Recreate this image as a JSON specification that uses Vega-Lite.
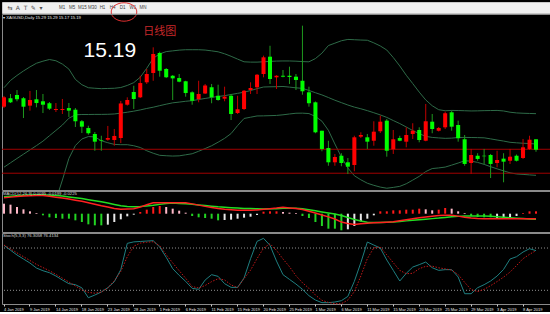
{
"$schema":"https://vega.github.io/schema/vega-lite/v6.json",
"background":"#000000",
"padding":0,
"bounds":"flush",
"spacing":1,
"config":{"view":{"stroke":null},"text":{"font":"Liberation Sans"}},
"datasets":{"bars":[
{"d":"4 Jan 2019","o":15.603,"h":15.706,"l":15.59,"c":15.693,"u":15.785,"m":15.022,"lo":14.259,"mac":0.0637,"sig":0.0676,"hist":0.0401,"ph":"pos_down","k":83.8,"dd":84.2},
{"d":"6 Jan 2019","o":15.684,"h":15.725,"l":15.638,"c":15.645,"u":15.855,"m":15.064,"lo":14.273,"mac":0.0663,"sig":0.0697,"hist":0.0361,"ph":"pos_down","k":76.9,"dd":78.8},
{"d":"7 Jan 2019","o":15.715,"h":15.763,"l":15.655,"c":15.674,"u":15.903,"m":15.106,"lo":14.308,"mac":0.0689,"sig":0.0719,"hist":0.0268,"ph":"pos_down","k":70.1,"dd":73.1},
{"d":"8 Jan 2019","o":15.684,"h":15.696,"l":15.494,"c":15.603,"u":15.946,"m":15.147,"lo":14.348,"mac":0.0711,"sig":0.0737,"hist":0.0175,"ph":"pos_down","k":64.4,"dd":67.7},
{"d":"9 Jan 2019","o":15.613,"h":15.754,"l":15.565,"c":15.667,"u":15.985,"m":15.188,"lo":14.391,"mac":0.0719,"sig":0.0745,"hist":0.0095,"ph":"pos_down","k":58.7,"dd":62.3},
{"d":"10 Jan 2019","o":15.674,"h":15.763,"l":15.597,"c":15.638,"u":16.02,"m":15.229,"lo":14.439,"mac":0.0728,"sig":0.0755,"hist":0.0028,"ph":"pos_down","k":51.6,"dd":56.8},
{"d":"11 Jan 2019","o":15.655,"h":15.725,"l":15.542,"c":15.622,"u":16.04,"m":15.272,"lo":14.504,"mac":0.0732,"sig":0.0759,"hist":-0.0065,"ph":"neg_down","k":47.8,"dd":52.3},
{"d":"13 Jan 2019","o":15.636,"h":15.648,"l":15.571,"c":15.584,"u":16.056,"m":15.324,"lo":14.591,"mac":0.0695,"sig":0.0741,"hist":-0.0145,"ph":"neg_down","k":45.0,"dd":47.8},
{"d":"14 Jan 2019","o":15.571,"h":15.638,"l":15.552,"c":15.581,"u":16.044,"m":15.375,"lo":14.706,"mac":0.066,"sig":0.0724,"hist":-0.0172,"ph":"neg_down","k":40.3,"dd":42.6},
{"d":"15 Jan 2019","o":15.571,"h":15.677,"l":15.533,"c":15.581,"u":16.012,"m":15.427,"lo":14.899,"mac":0.0625,"sig":0.0707,"hist":-0.0199,"ph":"neg_down","k":34.6,"dd":37.2},
{"d":"16 Jan 2019","o":15.59,"h":15.638,"l":15.504,"c":15.565,"u":15.964,"m":15.492,"lo":15.106,"mac":0.0584,"sig":0.0672,"hist":-0.0199,"ph":"neg_down","k":29.4,"dd":31.8},
{"d":"17 Jan 2019","o":15.574,"h":15.59,"l":15.408,"c":15.463,"u":15.865,"m":15.525,"lo":15.23,"mac":0.0539,"sig":0.0637,"hist":-0.0265,"ph":"neg_down","k":28.0,"dd":26.1},
{"d":"18 Jan 2019","o":15.463,"h":15.475,"l":15.35,"c":15.411,"u":15.814,"m":15.528,"lo":15.293,"mac":0.0497,"sig":0.0604,"hist":-0.0332,"ph":"neg_down","k":23.5,"dd":20.7},
{"d":"20 Jan 2019","o":15.398,"h":15.42,"l":15.334,"c":15.348,"u":15.785,"m":15.528,"lo":15.316,"mac":0.0439,"sig":0.0561,"hist":-0.0425,"ph":"neg_down","k":9.5,"dd":17.1},
{"d":"21 Jan 2019","o":15.341,"h":15.36,"l":15.18,"c":15.267,"u":15.78,"m":15.529,"lo":15.313,"mac":0.0376,"sig":0.0517,"hist":-0.0465,"ph":"neg_down","k":13.3,"dd":15.9},
{"d":"22 Jan 2019","o":15.28,"h":15.324,"l":15.18,"c":15.274,"u":15.776,"m":15.529,"lo":15.276,"mac":0.0317,"sig":0.0475,"hist":-0.0465,"ph":"neg_down","k":17.6,"dd":17.4},
{"d":"23 Jan 2019","o":15.286,"h":15.418,"l":15.276,"c":15.302,"u":15.778,"m":15.53,"lo":15.257,"mac":0.0265,"sig":0.0425,"hist":-0.0439,"ph":"neg_up","k":23.7,"dd":23.4},
{"d":"24 Jan 2019","o":15.283,"h":15.389,"l":15.228,"c":15.322,"u":15.78,"m":15.533,"lo":15.241,"mac":0.0212,"sig":0.0372,"hist":-0.0332,"ph":"neg_up","k":32.2,"dd":33.5},
{"d":"25 Jan 2019","o":15.302,"h":15.658,"l":15.254,"c":15.634,"u":15.787,"m":15.541,"lo":15.238,"mac":0.0177,"sig":0.0321,"hist":-0.0225,"ph":"neg_up","k":49.3,"dd":46.7},
{"d":"27 Jan 2019","o":15.622,"h":15.693,"l":15.613,"c":15.667,"u":15.807,"m":15.55,"lo":15.238,"mac":0.0188,"sig":0.0285,"hist":-0.0105,"ph":"neg_up","k":86.6,"dd":67.7},
{"d":"28 Jan 2019","o":15.744,"h":15.804,"l":15.581,"c":15.677,"u":15.834,"m":15.56,"lo":15.228,"mac":0.0199,"sig":0.0276,"hist":-0.0039,"ph":"neg_up","k":88.7,"dd":82.6},
{"d":"29 Jan 2019","o":15.693,"h":15.9,"l":15.686,"c":15.83,"u":15.886,"m":15.572,"lo":15.211,"mac":0.0264,"sig":0.0285,"hist":0.0068,"ph":"pos_up","k":89.3,"dd":87.0},
{"d":"30 Jan 2019","o":15.837,"h":15.965,"l":15.821,"c":15.917,"u":15.972,"m":15.586,"lo":15.18,"mac":0.036,"sig":0.0312,"hist":0.0161,"ph":"pos_up","k":89.9,"dd":88.2},
{"d":"31 Jan 2019","o":15.926,"h":16.173,"l":15.852,"c":16.109,"u":16.068,"m":15.598,"lo":15.156,"mac":0.0441,"sig":0.0339,"hist":0.0268,"ph":"pos_up","k":90.4,"dd":88.9},
{"d":"1 Feb 2019","o":16.118,"h":16.131,"l":15.891,"c":15.948,"u":16.11,"m":15.613,"lo":15.136,"mac":0.0441,"sig":0.0373,"hist":0.0308,"ph":"pos_up","k":81.4,"dd":83.1},
{"d":"3 Feb 2019","o":15.965,"h":15.974,"l":15.878,"c":15.885,"u":16.132,"m":15.627,"lo":15.132,"mac":0.0441,"sig":0.0411,"hist":0.0268,"ph":"pos_down","k":66.8,"dd":70.5},
{"d":"4 Feb 2019","o":15.9,"h":15.907,"l":15.667,"c":15.875,"u":16.139,"m":15.64,"lo":15.129,"mac":0.0441,"sig":0.0423,"hist":0.0201,"ph":"pos_down","k":50.7,"dd":58.9},
{"d":"5 Feb 2019","o":15.878,"h":15.917,"l":15.837,"c":15.843,"u":16.146,"m":15.647,"lo":15.131,"mac":0.0441,"sig":0.0412,"hist":0.0121,"ph":"pos_down","k":41.2,"dd":47.8},
{"d":"6 Feb 2019","o":15.847,"h":15.852,"l":15.699,"c":15.734,"u":16.15,"m":15.655,"lo":15.141,"mac":0.0441,"sig":0.0401,"hist":0.0041,"ph":"pos_down","k":32.7,"dd":37.1},
{"d":"7 Feb 2019","o":15.741,"h":15.751,"l":15.622,"c":15.66,"u":16.15,"m":15.661,"lo":15.151,"mac":0.0393,"sig":0.0377,"hist":-0.0092,"ph":"neg_down","k":22.8,"dd":25.3},
{"d":"8 Feb 2019","o":15.677,"h":15.852,"l":15.645,"c":15.725,"u":16.15,"m":15.672,"lo":15.175,"mac":0.0343,"sig":0.0352,"hist":-0.0145,"ph":"neg_down","k":21.4,"dd":23.4},
{"d":"10 Feb 2019","o":15.73,"h":15.821,"l":15.725,"c":15.806,"u":16.147,"m":15.682,"lo":15.201,"mac":0.0293,"sig":0.0325,"hist":-0.0172,"ph":"neg_down","k":34.6,"dd":26.8},
{"d":"11 Feb 2019","o":15.789,"h":15.821,"l":15.636,"c":15.693,"u":16.139,"m":15.692,"lo":15.228,"mac":0.0252,"sig":0.03,"hist":-0.0199,"ph":"neg_down","k":42.2,"dd":32.3},
{"d":"12 Feb 2019","o":15.708,"h":15.814,"l":15.66,"c":15.667,"u":16.13,"m":15.701,"lo":15.262,"mac":0.0212,"sig":0.0275,"hist":-0.0265,"ph":"neg_down","k":39.8,"dd":36.5},
{"d":"13 Feb 2019","o":15.68,"h":15.795,"l":15.655,"c":15.699,"u":16.111,"m":15.709,"lo":15.299,"mac":0.0181,"sig":0.0256,"hist":-0.0252,"ph":"neg_up","k":29.4,"dd":34.7},
{"d":"14 Feb 2019","o":15.708,"h":15.725,"l":15.475,"c":15.533,"u":16.087,"m":15.72,"lo":15.345,"mac":0.0156,"sig":0.024,"hist":-0.0239,"ph":"neg_up","k":24.2,"dd":27.7},
{"d":"15 Feb 2019","o":15.542,"h":15.708,"l":15.533,"c":15.578,"u":16.06,"m":15.731,"lo":15.421,"mac":0.0135,"sig":0.0225,"hist":-0.0199,"ph":"neg_up","k":24.2,"dd":23.8},
{"d":"17 Feb 2019","o":15.581,"h":15.763,"l":15.571,"c":15.757,"u":16.034,"m":15.742,"lo":15.49,"mac":0.0135,"sig":0.0211,"hist":-0.0159,"ph":"neg_up","k":37.4,"dd":36.7},
{"d":"18 Feb 2019","o":15.763,"h":15.837,"l":15.725,"c":15.782,"u":16.031,"m":15.758,"lo":15.502,"mac":0.0135,"sig":0.0205,"hist":-0.0119,"ph":"neg_up","k":64.9,"dd":48.6},
{"d":"19 Feb 2019","o":15.789,"h":15.917,"l":15.725,"c":15.91,"u":16.031,"m":15.776,"lo":15.514,"mac":0.0151,"sig":0.0197,"hist":-0.0052,"ph":"neg_up","k":89.4,"dd":64.9},
{"d":"20 Feb 2019","o":15.917,"h":16.093,"l":15.885,"c":16.077,"u":16.034,"m":15.792,"lo":15.515,"mac":0.0177,"sig":0.0191,"hist":0.0081,"ph":"pos_up","k":93.7,"dd":79.7},
{"d":"21 Feb 2019","o":16.083,"h":16.188,"l":15.821,"c":15.869,"u":16.038,"m":15.794,"lo":15.517,"mac":0.0201,"sig":0.0195,"hist":0.0095,"ph":"pos_up","k":83.8,"dd":86.1},
{"d":"22 Feb 2019","o":15.885,"h":15.905,"l":15.773,"c":15.9,"u":16.041,"m":15.795,"lo":15.519,"mac":0.0224,"sig":0.0201,"hist":0.0095,"ph":"pos_up","k":61.5,"dd":76.7},
{"d":"24 Feb 2019","o":15.9,"h":15.955,"l":15.885,"c":15.891,"u":16.042,"m":15.797,"lo":15.525,"mac":0.0256,"sig":0.0215,"hist":0.0068,"ph":"pos_down","k":42.2,"dd":64.4},
{"d":"25 Feb 2019","o":15.9,"h":15.987,"l":15.821,"c":15.888,"u":16.042,"m":15.791,"lo":15.533,"mac":0.0231,"sig":0.0221,"hist":0.0041,"ph":"pos_down","k":35.5,"dd":53.5},
{"d":"26 Feb 2019","o":15.891,"h":15.917,"l":15.763,"c":15.859,"u":16.04,"m":15.784,"lo":15.54,"mac":0.0211,"sig":0.0221,"hist":0.0028,"ph":"pos_down","k":28.9,"dd":40.7},
{"d":"27 Feb 2019","o":15.852,"h":16.381,"l":15.718,"c":15.751,"u":16.036,"m":15.779,"lo":15.541,"mac":0.0168,"sig":0.0201,"hist":-0.0092,"ph":"neg_down","k":21.4,"dd":30.8},
{"d":"28 Feb 2019","o":15.741,"h":15.795,"l":15.603,"c":15.636,"u":16.034,"m":15.759,"lo":15.537,"mac":0.0097,"sig":0.0159,"hist":-0.0172,"ph":"neg_down","k":12.4,"dd":22.8},
{"d":"1 Mar 2019","o":15.645,"h":15.653,"l":15.348,"c":15.357,"u":16.065,"m":15.737,"lo":15.509,"mac":0.0031,"sig":0.0115,"hist":-0.0332,"ph":"neg_down","k":6.2,"dd":13.3},
{"d":"3 Mar 2019","o":15.372,"h":15.372,"l":15.175,"c":15.197,"u":16.117,"m":15.716,"lo":15.464,"mac":-0.0049,"sig":0.0072,"hist":-0.0492,"ph":"neg_down","k":2.5,"dd":5.8},
{"d":"4 Mar 2019","o":15.206,"h":15.276,"l":15.036,"c":15.069,"u":16.19,"m":15.691,"lo":15.376,"mac":-0.0127,"sig":0.0031,"hist":-0.0599,"ph":"neg_down","k":2.5,"dd":2.9},
{"d":"5 Mar 2019","o":15.069,"h":15.149,"l":15.036,"c":15.12,"u":16.213,"m":15.665,"lo":15.245,"mac":-0.0211,"sig":-0.0015,"hist":-0.0599,"ph":"neg_down","k":3.4,"dd":1.0},
{"d":"6 Mar 2019","o":15.132,"h":15.156,"l":15.031,"c":15.062,"u":16.236,"m":15.642,"lo":15.12,"mac":-0.0335,"sig":-0.0073,"hist":-0.0665,"ph":"neg_down","k":5.3,"dd":1.0},
{"d":"7 Mar 2019","o":15.069,"h":15.11,"l":14.957,"c":15.027,"u":16.249,"m":15.619,"lo":15.014,"mac":-0.0396,"sig":-0.0151,"hist":-0.0625,"ph":"neg_up","k":11.4,"dd":6.2},
{"d":"8 Mar 2019","o":15.043,"h":15.324,"l":14.983,"c":15.309,"u":16.246,"m":15.599,"lo":14.94,"mac":-0.0432,"sig":-0.0229,"hist":-0.0492,"ph":"neg_up","k":32.7,"dd":18.1},
{"d":"10 Mar 2019","o":15.315,"h":15.357,"l":15.302,"c":15.331,"u":16.243,"m":15.583,"lo":14.901,"mac":-0.0405,"sig":-0.0296,"hist":-0.0305,"ph":"neg_up","k":59.2,"dd":40.3},
{"d":"11 Mar 2019","o":15.309,"h":15.341,"l":15.197,"c":15.267,"u":16.241,"m":15.565,"lo":14.868,"mac":-0.038,"sig":-0.0339,"hist":-0.0199,"ph":"neg_up","k":88.5,"dd":64.9},
{"d":"12 Mar 2019","o":15.276,"h":15.463,"l":15.228,"c":15.363,"u":16.216,"m":15.545,"lo":14.848,"mac":-0.0365,"sig":-0.0356,"hist":-0.0065,"ph":"neg_up","k":84.2,"dd":80.2},
{"d":"13 Mar 2019","o":15.367,"h":15.517,"l":15.35,"c":15.459,"u":16.186,"m":15.524,"lo":14.831,"mac":-0.0351,"sig":-0.0355,"hist":0.0095,"ph":"pos_up","k":80.0,"dd":81.4},
{"d":"14 Mar 2019","o":15.469,"h":15.485,"l":15.123,"c":15.18,"u":16.147,"m":15.5,"lo":14.82,"mac":-0.034,"sig":-0.0344,"hist":0.0095,"ph":"pos_up","k":63.0,"dd":70.3},
{"d":"15 Mar 2019","o":15.194,"h":15.379,"l":15.149,"c":15.29,"u":16.075,"m":15.47,"lo":14.828,"mac":-0.0325,"sig":-0.0332,"hist":0.0135,"ph":"pos_up","k":48.3,"dd":59.2},
{"d":"17 Mar 2019","o":15.302,"h":15.324,"l":15.271,"c":15.276,"u":15.994,"m":15.441,"lo":14.838,"mac":-0.0283,"sig":-0.0308,"hist":0.0135,"ph":"pos_up","k":33.2,"dd":48.3},
{"d":"18 Mar 2019","o":15.267,"h":15.405,"l":15.213,"c":15.331,"u":15.905,"m":15.408,"lo":14.863,"mac":-0.0241,"sig":-0.0287,"hist":0.0161,"ph":"pos_up","k":44.1,"dd":43.6},
{"d":"19 Mar 2019","o":15.341,"h":15.444,"l":15.293,"c":15.372,"u":15.825,"m":15.374,"lo":14.898,"mac":-0.0199,"sig":-0.0265,"hist":0.0161,"ph":"pos_up","k":53.0,"dd":44.1},
{"d":"20 Mar 2019","o":15.379,"h":15.405,"l":15.261,"c":15.283,"u":15.743,"m":15.344,"lo":14.934,"mac":-0.0165,"sig":-0.0243,"hist":0.0201,"ph":"pos_up","k":56.4,"dd":50.7},
{"d":"21 Mar 2019","o":15.276,"h":15.629,"l":15.271,"c":15.463,"u":15.668,"m":15.318,"lo":14.98,"mac":-0.0132,"sig":-0.022,"hist":0.0175,"ph":"pos_down","k":60.1,"dd":54.0},
{"d":"22 Mar 2019","o":15.459,"h":15.533,"l":15.348,"c":15.389,"u":15.612,"m":15.308,"lo":15.009,"mac":-0.01,"sig":-0.0197,"hist":0.0135,"ph":"pos_down","k":52.1,"dd":54.3},
{"d":"24 Mar 2019","o":15.372,"h":15.408,"l":15.365,"c":15.398,"u":15.574,"m":15.303,"lo":15.015,"mac":-0.0069,"sig":-0.0176,"hist":0.0161,"ph":"pos_up","k":48.3,"dd":51.9},
{"d":"25 Mar 2019","o":15.405,"h":15.555,"l":15.389,"c":15.54,"u":15.564,"m":15.299,"lo":15.023,"mac":-0.0065,"sig":-0.0148,"hist":0.0228,"ph":"pos_up","k":49.3,"dd":50.5},
{"d":"26 Mar 2019","o":15.549,"h":15.565,"l":15.372,"c":15.411,"u":15.567,"m":15.301,"lo":15.042,"mac":-0.0065,"sig":-0.0123,"hist":0.0201,"ph":"pos_down","k":49.3,"dd":48.6},
{"d":"27 Mar 2019","o":15.427,"h":15.469,"l":15.267,"c":15.3,"u":15.566,"m":15.307,"lo":15.062,"mac":-0.0097,"sig":-0.0107,"hist":0.0095,"ph":"pos_down","k":38.9,"dd":42.4},
{"d":"28 Mar 2019","o":15.29,"h":15.331,"l":15.036,"c":15.053,"u":15.564,"m":15.308,"lo":15.084,"mac":-0.014,"sig":-0.0093,"hist":0.0028,"ph":"pos_down","k":15.2,"dd":31.3},
{"d":"29 Mar 2019","o":15.062,"h":15.197,"l":14.957,"c":15.139,"u":15.562,"m":15.307,"lo":15.08,"mac":-0.0172,"sig":-0.0092,"hist":-0.0092,"ph":"neg_down","k":15.2,"dd":21.1},
{"d":"31 Mar 2019","o":15.132,"h":15.156,"l":15.084,"c":15.101,"u":15.563,"m":15.306,"lo":15.068,"mac":-0.0193,"sig":-0.0092,"hist":-0.0132,"ph":"neg_down","k":23.7,"dd":18.2},
{"d":"1 Apr 2019","o":15.132,"h":15.197,"l":15.053,"c":15.127,"u":15.565,"m":15.304,"lo":15.049,"mac":-0.0199,"sig":-0.0092,"hist":-0.0145,"ph":"neg_down","k":28.0,"dd":21.4},
{"d":"2 Apr 2019","o":15.139,"h":15.149,"l":14.918,"c":15.053,"u":15.566,"m":15.294,"lo":15.027,"mac":-0.0199,"sig":-0.0105,"hist":-0.0145,"ph":"neg_down","k":33.2,"dd":26.6},
{"d":"3 Apr 2019","o":15.062,"h":15.18,"l":15.021,"c":15.091,"u":15.567,"m":15.283,"lo":15.006,"mac":-0.0199,"sig":-0.0125,"hist":-0.0172,"ph":"neg_up","k":40.3,"dd":32.4},
{"d":"4 Apr 2019","o":15.104,"h":15.156,"l":14.877,"c":15.075,"u":15.562,"m":15.273,"lo":14.987,"mac":-0.0199,"sig":-0.0145,"hist":-0.0172,"ph":"neg_up","k":49.7,"dd":38.7},
{"d":"5 Apr 2019","o":15.084,"h":15.197,"l":15.053,"c":15.123,"u":15.55,"m":15.261,"lo":14.968,"mac":-0.0199,"sig":-0.0164,"hist":-0.0145,"ph":"neg_up","k":64.4,"dd":45.9},
{"d":"7 Apr 2019","o":15.132,"h":15.144,"l":15.077,"c":15.084,"u":15.543,"m":15.256,"lo":14.957,"mac":-0.0199,"sig":-0.018,"hist":-0.0092,"ph":"neg_up","k":67.7,"dd":55.1},
{"d":"8 Apr 2019","o":15.11,"h":15.293,"l":15.101,"c":15.213,"u":15.54,"m":15.252,"lo":14.953,"mac":-0.0199,"sig":-0.0195,"hist":0.0028,"ph":"pos_up","k":74.3,"dd":64.9},
{"d":"9 Apr 2019","o":15.197,"h":15.324,"l":15.187,"c":15.286,"u":15.538,"m":15.249,"lo":14.948,"mac":-0.0199,"sig":-0.0211,"hist":0.0095,"ph":"pos_up","k":79.0,"dd":71.0},
{"d":"10 Apr 2019","o":15.29,"h":15.29,"l":15.17,"c":15.19,"u":15.536,"m":15.245,"lo":14.944,"mac":-0.0199,"sig":-0.0225,"hist":0.0095,"ph":"pos_up","k":76.3,"dd":76.4}
]},
"vconcat":[
{
"width":549,"height":11,
"view":{"fill":"#f0f0f0","stroke":"#c8c8c8"},
"resolve":{"scale":{"x":"independent"}},
"layer":[
{"data":{"values":[{"ic":"⇆"},{"ic":"A"},{"ic":"T"},{"ic":"✎"},{"ic":"▾"}]},
"mark":{"type":"text","font":"DejaVu Sans","fontSize":6,"color":"#505050","baseline":"middle"},
"encoding":{"x":{"field":"ic","type":"nominal","scale":{"type":"point","domain":["⇆","A","T","✎","▾"],"range":[4,43]},"axis":null},"text":{"field":"ic"}}},
{"data":{"values":[{"b":"M1"},{"b":"M5"},{"b":"M15"},{"b":"M30"},{"b":"H1"},{"b":"H4"},{"b":"D1"},{"b":"W1"},{"b":"MN"}]},
"mark":{"type":"text","fontSize":4.5,"color":"#404040","baseline":"middle"},
"encoding":{"x":{"field":"b","type":"nominal","scale":{"type":"point","domain":["M1","M5","M15","M30","H1","H4","D1","W1","MN"],"range":[55,146]},"axis":null},"text":{"field":"b"}}},
{"data":{"values":[{"b":"D1"}]},
"mark":{"type":"point","filled":false,"stroke":"#e03030","strokeWidth":1,"size":655,"opacity":1,"shape":"M1.1,0.35C1.1,0.75 0.65,1.07 0.1,1.07C-0.45,1.07 -0.9,0.75 -0.9,0.35C-0.9,-0.05 -0.45,-0.37 0.1,-0.37C0.65,-0.37 1.1,-0.05 1.1,0.35Z"},
"encoding":{"x":{"field":"b","type":"nominal","scale":{"type":"point","domain":["M1","M5","M15","M30","H1","H4","D1","W1","MN"],"range":[55,146]},"axis":null}}}
]
},
{
"bounds":"flush",
"spacing":1,
"resolve":{"scale":{"x":"shared"}},
"vconcat":[
{
"width":549,"height":176,
"view":{"stroke":"#8a8a8a"},
"layer":[
{"data":{"name":"bars"},"mark":{"type":"line","color":"#2e6b48","strokeWidth":1,"clip":true},
"encoding":{"x":{"field":"d","type":"nominal","axis":null,"scale":{"type":"band","domain":["4 Jan 2019","6 Jan 2019","7 Jan 2019","8 Jan 2019","9 Jan 2019","10 Jan 2019","11 Jan 2019","13 Jan 2019","14 Jan 2019","15 Jan 2019","16 Jan 2019","17 Jan 2019","18 Jan 2019","20 Jan 2019","21 Jan 2019","22 Jan 2019","23 Jan 2019","24 Jan 2019","25 Jan 2019","27 Jan 2019","28 Jan 2019","29 Jan 2019","30 Jan 2019","31 Jan 2019","1 Feb 2019","3 Feb 2019","4 Feb 2019","5 Feb 2019","6 Feb 2019","7 Feb 2019","8 Feb 2019","10 Feb 2019","11 Feb 2019","12 Feb 2019","13 Feb 2019","14 Feb 2019","15 Feb 2019","17 Feb 2019","18 Feb 2019","19 Feb 2019","20 Feb 2019","21 Feb 2019","22 Feb 2019","24 Feb 2019","25 Feb 2019","26 Feb 2019","27 Feb 2019","28 Feb 2019","1 Mar 2019","3 Mar 2019","4 Mar 2019","5 Mar 2019","6 Mar 2019","7 Mar 2019","8 Mar 2019","10 Mar 2019","11 Mar 2019","12 Mar 2019","13 Mar 2019","14 Mar 2019","15 Mar 2019","17 Mar 2019","18 Mar 2019","19 Mar 2019","20 Mar 2019","21 Mar 2019","22 Mar 2019","24 Mar 2019","25 Mar 2019","26 Mar 2019","27 Mar 2019","28 Mar 2019","29 Mar 2019","31 Mar 2019","1 Apr 2019","2 Apr 2019","3 Apr 2019","4 Apr 2019","5 Apr 2019","7 Apr 2019","8 Apr 2019","9 Apr 2019","10 Apr 2019"],"paddingInner":0.38,"paddingOuter":1.25,"align":0,"round":false}},
"y":{"field":"u","type":"quantitative","axis":null,"scale":{"domain":[14.803,16.493],"zero":false,"nice":false}}}},
{"data":{"name":"bars"},"mark":{"type":"line","color":"#2e6b48","strokeWidth":1,"clip":true},
"encoding":{"x":{"field":"d","type":"nominal","axis":null},"y":{"field":"m","type":"quantitative"}}},
{"data":{"name":"bars"},"mark":{"type":"line","color":"#2e6b48","strokeWidth":1,"clip":true},
"encoding":{"x":{"field":"d","type":"nominal","axis":null},"y":{"field":"lo","type":"quantitative"}}},
{"data":{"values":[{"lv":15.194},{"lv":14.964}]},"mark":{"type":"rule","color":"#a00000","strokeWidth":1},
"encoding":{"y":{"field":"lv","type":"quantitative"}}},
{"data":{"name":"bars"},"mark":{"type":"rule","strokeWidth":1,"clip":true},
"encoding":{"x":{"field":"d","type":"nominal","axis":null},"y":{"field":"l","type":"quantitative"},"y2":{"field":"h"},
"color":{"condition":{"test":"datum.c >= datum.o","value":"#c00000"},"value":"#1e9a1e"}}},
{"data":{"name":"bars"},"mark":{"type":"bar","clip":true},
"encoding":{"x":{"field":"d","type":"nominal","axis":null},"y":{"field":"o","type":"quantitative"},"y2":{"field":"c"},
"color":{"condition":{"test":"datum.c >= datum.o","value":"#ff0000"},"value":"#00ff00"}}},
{"data":{"values":[{"t":"▾ XAGUSD,Daily  15.29 15.29 15.17 15.19"}]},"mark":{"type":"text","fontSize":4.2,"color":"#e8e8e8","align":"left","baseline":"middle","dx":-1},
"encoding":{"x":{"datum":"4 Jan 2019","type":"nominal","axis":null},"y":{"datum":16.452,"type":"quantitative"},"text":{"field":"t"}}},
{"data":{"values":[{"t":"15.19"}]},"mark":{"type":"text","fontSize":21,"color":"#ffffff","align":"center","baseline":"middle","dx":2},
"encoding":{"x":{"datum":"23 Jan 2019","type":"nominal","axis":null},"y":{"datum":16.14,"type":"quantitative"},"text":{"field":"t"}}},
{"data":{"values":[{"t":"日线图"}]},"mark":{"type":"text","font":"Noto Sans CJK SC","fontSize":11,"color":"#c8282a","align":"center","baseline":"middle"},
"encoding":{"x":{"datum":"1 Feb 2019","type":"nominal","axis":null},"y":{"datum":16.32,"type":"quantitative"},"text":{"field":"t"}}}
]
},
{
"width":549,"height":41,
"view":{"stroke":"#8a8a8a"},
"layer":[
{"data":{"name":"bars"},"mark":{"type":"bar","size":2},
"encoding":{"x":{"field":"d","type":"nominal","axis":null},
"y":{"field":"hist","type":"quantitative","axis":null,"scale":{"domain":[-0.0732,0.0908],"zero":false,"nice":false}},
"color":{"field":"ph","type":"nominal","legend":null,"scale":{"domain":["pos_up","pos_down","neg_down","neg_up"],"range":["#ff1a1a","#ffb8c8","#22d322","#e8e8e8"]}}}},
{"data":{"name":"bars"},"mark":{"type":"line","color":"#22dd22","strokeWidth":1.5},
"encoding":{"x":{"field":"d","type":"nominal","axis":null},"y":{"field":"sig","type":"quantitative"}}},
{"data":{"name":"bars"},"mark":{"type":"line","color":"#ff2020","strokeWidth":1.5},
"encoding":{"x":{"field":"d","type":"nominal","axis":null},"y":{"field":"mac","type":"quantitative"}}},
{"data":{"values":[{"t":"MACD(12,26,9) 0.0095 -0.0199 -0.0225"}]},"mark":{"type":"text","fontSize":4.2,"color":"#d8d8d8","align":"left","baseline":"middle","dx":-1},
"encoding":{"x":{"datum":"4 Jan 2019","type":"nominal","axis":null},"y":{"datum":0.0776,"type":"quantitative"},"text":{"field":"t"}}}
]
},
{
"width":549,"height":71,
"view":{"stroke":"#8a8a8a"},
"layer":[
{"data":{"values":[{"lv":20},{"lv":80}]},"mark":{"type":"rule","color":"#909090","strokeWidth":1,"strokeDash":[1,2]},
"encoding":{"y":{"field":"lv","type":"quantitative","axis":null,"scale":{"domain":[0.6,101.3],"zero":false,"nice":false}}}},
{"data":{"name":"bars"},"mark":{"type":"line","color":"#1f7f80","strokeWidth":1},
"encoding":{"x":{"field":"d","type":"nominal","axis":{"values":["4 Jan 2019","9 Jan 2019","14 Jan 2019","18 Jan 2019","23 Jan 2019","28 Jan 2019","1 Feb 2019","6 Feb 2019","11 Feb 2019","15 Feb 2019","20 Feb 2019","25 Feb 2019","1 Mar 2019","6 Mar 2019","11 Mar 2019","15 Mar 2019","20 Mar 2019","25 Mar 2019","29 Mar 2019","3 Apr 2019","8 Apr 2019"],"title":null,"domain":false,"grid":false,"bandPosition":0.5,"labelAngle":0,"labelAlign":"left","labelBaseline":"top","labelFontSize":4,"labelFont":"Liberation Sans","labelColor":"#e8e8e8","labelPadding":1,"labelOverlap":false,"labelBound":false,"tickColor":"#c8c8c8","tickSize":2,"tickWidth":1}},
"y":{"field":"k","type":"quantitative"}}},
{"data":{"name":"bars"},"mark":{"type":"line","color":"#c01818","strokeWidth":1,"strokeDash":[1.5,1.5]},
"encoding":{"x":{"field":"d","type":"nominal"},"y":{"field":"dd","type":"quantitative"}}},
{"data":{"values":[{"t":"Stoch(5,3,3) 76.3058 76.4134"}]},"mark":{"type":"text","fontSize":4.2,"color":"#d8d8d8","align":"left","baseline":"middle","dx":-1},
"encoding":{"x":{"datum":"4 Jan 2019","type":"nominal"},"y":{"datum":97,"type":"quantitative"},"text":{"field":"t"}}}
]
}
]
}
]
}
